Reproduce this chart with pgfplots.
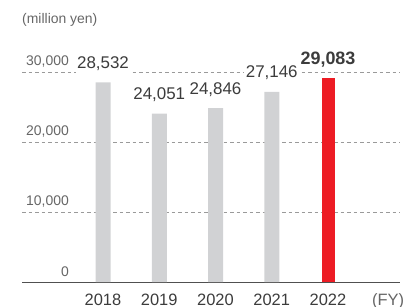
\documentclass[border=0pt]{standalone}
\usepackage{fontspec}
\setmainfont{Liberation Sans}
\usepackage{pgfplots}
\pgfplotsset{compat=1.18}
\usepackage{pgfplotstable}
\definecolor{barGray}{HTML}{D1D2D4}
\definecolor{barRed}{HTML}{ED1C24}
\definecolor{tickText}{HTML}{666666}
\definecolor{valText}{HTML}{3C3C3C}
\definecolor{gridGray}{HTML}{9A9A9A}
\definecolor{baseLine}{HTML}{505050}
\pgfplotstableread{
x y lab
0 28532 {28,532}
1 24051 {24,051}
2 24846 {24,846}
3 27146 {27,146}
}\grayData
\pgfplotstableread{
x y lab
4 29083 {29,083}
}\redData
\begin{document}
\begin{tikzpicture}
\useasboundingbox (0,0) rectangle (404bp,307bp);
\node[anchor=base west, inner sep=0, text=tickText, font=\fontsize{14}{16}\selectfont] at (22bp,283bp) {(million yen)};
\begin{axis}[
  at={(22bp,25bp)}, anchor=south west,
  scale only axis, width=378bp, height=210bp,
  xmin=-1.44, xmax=5.28, ymin=0, ymax=30000,
  clip=false,
  scaled y ticks=false,
  axis x line*=bottom, axis y line*=left,
  y axis line style={draw=none},
  x axis line style={draw=baseLine, line width=0.9pt},
  major tick length=0pt,
  xtick={0,1,2,3,4}, xticklabels={2018,2019,2020,2021,2022},
  extra x ticks={5.07}, extra x tick labels={(FY)},
  xticklabel style={anchor=base, yshift=-23bp, inner sep=0, text=valText, font=\fontsize{16.5}{18}\selectfont},
  extra x tick style={xticklabel style={text=tickText}},
  ytick={0,10000,20000,30000},
  yticklabels={0,{10,000},{20,000},{30,000}},
  yticklabel style={anchor=base east, xshift=47bp, yshift=6bp, inner sep=0, text=tickText, font=\fontsize{14}{16}\selectfont},
  ymajorgrids,
  grid style={draw=gridGray, line width=0.6pt, dash pattern=on 3.5bp off 3bp},
  ybar, bar shift=0pt,
  nodes near coords,
  point meta=explicit symbolic,
  nodes near coords style={anchor=base, yshift=14bp, fill=white, inner xsep=1.5bp, inner ysep=4bp, text=valText, font=\fontsize{17}{19}\selectfont},
]
\addplot[fill=barGray, draw=none, bar width=15bp] table[x=x, y=y, meta=lab] {\grayData};
\addplot[fill=barRed, draw=none, bar width=13bp, nodes near coords style={font=\fontsize{18}{20}\selectfont\bfseries}] table[x=x, y=y, meta=lab] {\redData};
\end{axis}
\end{tikzpicture}
\end{document}
